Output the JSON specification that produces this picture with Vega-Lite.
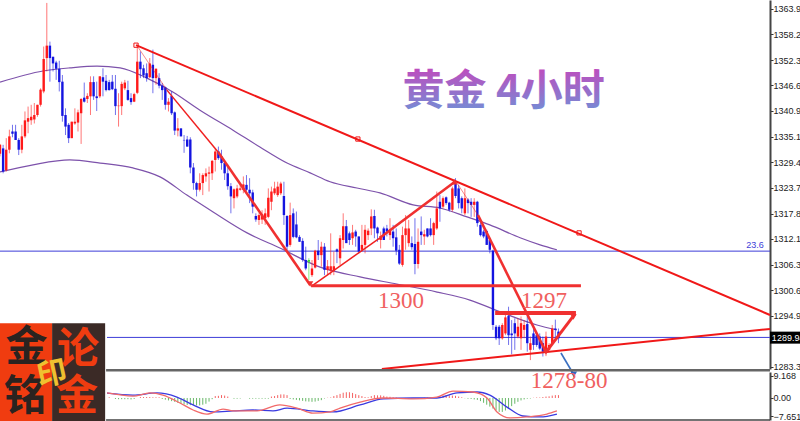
{"$schema":"https://vega.github.io/schema/vega-lite/v6.json","width":800,"height":421,"autosize":{"type":"none"},"padding":0,"background":"white","config":{"view":{"stroke":null},"axis":{"labelOverlap":false,"labelSeparation":0}},
"datasets":{
"candles":[
{"i":0,"d":"u","h":1333.5,"bh":1333.3,"bl":1331.3,"l":1330.7},{"i":1,"d":"d","h":1333.3,"bh":1332.5,"bl":1327.3,"l":1326.9},{"i":2,"d":"u","h":1334.8,"bh":1332.2,"bl":1327.6,"l":1327.3},{"i":3,"d":"u","h":1336.7,"bh":1335.2,"bl":1332.2,"l":1331.4},{"i":4,"d":"d","h":1337.8,"bh":1336.3,"bl":1335.8,"l":1335},{"i":5,"d":"d","h":1337.8,"bh":1336.3,"bl":1334.4,"l":1334.4},{"i":6,"d":"d","h":1334.8,"bh":1334.4,"bl":1332.2,"l":1331},{"i":7,"d":"u","h":1337.8,"bh":1335.2,"bl":1332.2,"l":1331.4},{"i":8,"d":"u","h":1340.8,"bh":1338.8,"bl":1335.2,"l":1334.8},{"i":9,"d":"u","h":1341.9,"bh":1339.3,"bl":1338.5,"l":1335.9},
{"i":10,"d":"u","h":1342.3,"bh":1339.6,"bl":1338.8,"l":1337.8},{"i":11,"d":"u","h":1342.7,"bh":1340,"bl":1339,"l":1338.1},{"i":12,"d":"u","h":1342.3,"bh":1342.3,"bl":1340,"l":1339.6},{"i":13,"d":"u","h":1346,"bh":1345.7,"bl":1342.3,"l":1341.9},{"i":14,"d":"u","h":1355.4,"bh":1352.6,"bl":1345.3,"l":1344.9},{"i":15,"d":"u","h":1365.2,"bh":1355.6,"bl":1352.8,"l":1349.8},{"i":16,"d":"d","h":1356.5,"bh":1355.6,"bl":1352.8,"l":1347.5},{"i":17,"d":"d","h":1353.1,"bh":1353.1,"bl":1351.6,"l":1349.8},{"i":18,"d":"d","h":1352.2,"bh":1351.8,"bl":1350.4,"l":1347.9},{"i":19,"d":"d","h":1352.2,"bh":1350.4,"bl":1347.4,"l":1345.3},
{"i":20,"d":"d","h":1349,"bh":1347.5,"bl":1339.8,"l":1338.5},{"i":21,"d":"d","h":1341.5,"bh":1340,"bl":1337.4,"l":1335.5},{"i":22,"d":"d","h":1338.2,"bh":1337.8,"bl":1334.8,"l":1333.7},{"i":23,"d":"u","h":1338.5,"bh":1338.5,"bl":1334.8,"l":1334.8},{"i":24,"d":"u","h":1341.5,"bh":1338.5,"bl":1338.1,"l":1337.8},{"i":25,"d":"u","h":1341.2,"bh":1340.6,"bl":1338.3,"l":1336.3},{"i":26,"d":"u","h":1343.8,"bh":1343.6,"bl":1340.4,"l":1333.5},{"i":27,"d":"d","h":1347.3,"bh":1343.9,"bl":1343,"l":1342.8},{"i":28,"d":"u","h":1344.9,"bh":1344.3,"bl":1343.6,"l":1342.7},{"i":29,"d":"u","h":1348.7,"bh":1347.4,"bl":1344.2,"l":1340},
{"i":30,"d":"d","h":1348.7,"bh":1347.4,"bl":1344.2,"l":1343.4},{"i":31,"d":"d","h":1347.5,"bh":1344.2,"bl":1343.8,"l":1340.9},{"i":32,"d":"u","h":1348.7,"bh":1348.7,"bl":1344.2,"l":1343.8},{"i":33,"d":"d","h":1350.5,"bh":1348.5,"bl":1347.5,"l":1344.2},{"i":34,"d":"d","h":1349,"bh":1347.7,"bl":1345.6,"l":1345.3},{"i":35,"d":"d","h":1347.9,"bh":1347.4,"bl":1345.6,"l":1345.5},{"i":36,"d":"d","h":1349,"bh":1347.5,"bl":1345.8,"l":1345.6},{"i":37,"d":"d","h":1349,"bh":1345.9,"bl":1342,"l":1340},{"i":38,"d":"u","h":1344.9,"bh":1342.1,"bl":1342,"l":1337.4},{"i":39,"d":"u","h":1347.5,"bh":1347,"bl":1342,"l":1340},
{"i":40,"d":"u","h":1347.9,"bh":1347.3,"bl":1346,"l":1345.6},{"i":41,"d":"d","h":1347.7,"bh":1345.6,"bl":1343.4,"l":1343.2},{"i":42,"d":"d","h":1344.9,"bh":1343.8,"bl":1342.9,"l":1342.3},{"i":43,"d":"u","h":1345,"bh":1344.7,"bl":1343,"l":1342.9},{"i":44,"d":"u","h":1355.4,"bh":1352,"bl":1345,"l":1344.7},{"i":45,"d":"d","h":1354.3,"bh":1352,"bl":1350.3,"l":1348.3},{"i":46,"d":"d","h":1351.3,"bh":1350.5,"bl":1348.9,"l":1348.3},{"i":47,"d":"d","h":1351.6,"bh":1349.4,"bl":1348.3,"l":1347.5},{"i":48,"d":"u","h":1352.8,"bh":1351.6,"bl":1348.5,"l":1348.3},{"i":49,"d":"d","h":1354.7,"bh":1351.3,"bl":1348.3,"l":1344.9},
{"i":50,"d":"u","h":1350.5,"bh":1350.4,"bl":1348.3,"l":1346.8},{"i":51,"d":"d","h":1349.4,"bh":1348.3,"bl":1346.6,"l":1346},{"i":52,"d":"d","h":1347.2,"bh":1346.6,"bl":1345.6,"l":1343.4},{"i":53,"d":"d","h":1346.4,"bh":1346.2,"bl":1342.3,"l":1341.2},{"i":54,"d":"u","h":1343.8,"bh":1343,"bl":1342.3,"l":1340.8},{"i":55,"d":"d","h":1345.3,"bh":1344.3,"bl":1340.4,"l":1340},{"i":56,"d":"d","h":1340.8,"bh":1340.6,"bl":1336.5,"l":1335.5},{"i":57,"d":"u","h":1339.3,"bh":1337,"bl":1336.5,"l":1335.2},{"i":58,"d":"d","h":1337,"bh":1337,"bl":1335.2,"l":1335.2},{"i":59,"d":"d","h":1335.5,"bh":1334.4,"bl":1334.3,"l":1331.5},
{"i":60,"d":"d","h":1335.3,"bh":1334.5,"bl":1332.9,"l":1332.9},{"i":61,"d":"d","h":1335,"bh":1334.5,"bl":1328.2,"l":1326.9},{"i":62,"d":"d","h":1329.2,"bh":1328.2,"bl":1324.7,"l":1323.2},{"i":63,"d":"d","h":1325,"bh":1324.7,"bl":1323.2,"l":1321.7},{"i":64,"d":"u","h":1326.9,"bh":1324.7,"bl":1323.2,"l":1322.8},{"i":65,"d":"u","h":1326.9,"bh":1326.5,"bl":1324.7,"l":1322},{"i":66,"d":"u","h":1328,"bh":1326.9,"bl":1326.2,"l":1325},{"i":67,"d":"u","h":1328.4,"bh":1327.1,"bl":1326.8,"l":1322.8},{"i":68,"d":"u","h":1329.9,"bh":1329.7,"bl":1326.9,"l":1325.4},{"i":69,"d":"u","h":1332.5,"bh":1331.8,"bl":1329.9,"l":1327.3},
{"i":70,"d":"d","h":1332.9,"bh":1331.8,"bl":1330.3,"l":1329.9},{"i":71,"d":"d","h":1332.2,"bh":1330.7,"bl":1329.2,"l":1327.7},{"i":72,"d":"d","h":1329.2,"bh":1329.2,"bl":1326.9,"l":1325.4},{"i":73,"d":"d","h":1328.8,"bh":1326.9,"bl":1324,"l":1323.2},{"i":74,"d":"d","h":1324.7,"bh":1324,"bl":1321.7,"l":1317.9},{"i":75,"d":"u","h":1323.5,"bh":1323.3,"bl":1321.3,"l":1319},{"i":76,"d":"u","h":1324.3,"bh":1323.5,"bl":1321.7,"l":1321.3},{"i":77,"d":"u","h":1324.3,"bh":1323.5,"bl":1323.2,"l":1323},{"i":78,"d":"u","h":1326.2,"bh":1324.4,"bl":1323.2,"l":1322.4},{"i":79,"d":"d","h":1326.5,"bh":1324.3,"bl":1323.2,"l":1322.8},
{"i":80,"d":"d","h":1325.8,"bh":1323.2,"bl":1322.4,"l":1320.2},{"i":81,"d":"d","h":1323.2,"bh":1322.6,"bl":1319.4,"l":1317.9},{"i":82,"d":"d","h":1317.9,"bh":1317.3,"bl":1316.5,"l":1316},{"i":83,"d":"u","h":1317.9,"bh":1317.5,"bl":1316.4,"l":1315.3},{"i":84,"d":"u","h":1318.6,"bh":1317.7,"bl":1316.5,"l":1315.5},{"i":85,"d":"u","h":1319,"bh":1317.9,"bl":1316.8,"l":1315.3},{"i":86,"d":"u","h":1323.5,"bh":1321.4,"bl":1317.1,"l":1316.8},{"i":87,"d":"u","h":1323.9,"bh":1322.8,"bl":1320.5,"l":1318.6},{"i":88,"d":"u","h":1325,"bh":1323.5,"bl":1322.4,"l":1322},{"i":89,"d":"u","h":1325,"bh":1323.9,"bl":1322,"l":1321.6},
{"i":90,"d":"u","h":1325,"bh":1324.6,"bl":1322.4,"l":1322},{"i":91,"d":"d","h":1325,"bh":1321.8,"bl":1317.5,"l":1315.3},{"i":92,"d":"d","h":1317.5,"bh":1317.3,"bl":1310.4,"l":1309.6},{"i":93,"d":"u","h":1320.3,"bh":1317.5,"bl":1310.8,"l":1310.4},{"i":94,"d":"d","h":1319,"bh":1317.9,"bl":1312.6,"l":1312.3},{"i":95,"d":"d","h":1318.3,"bh":1315.4,"bl":1312.5,"l":1312.3},{"i":96,"d":"d","h":1313,"bh":1312.6,"bl":1311.5,"l":1311.5},{"i":97,"d":"d","h":1312.3,"bh":1311.7,"bl":1307.4,"l":1307},{"i":98,"d":"d","h":1310.4,"bh":1307.4,"bl":1305.5,"l":1305.1},{"i":99,"d":"g","h":1307.8,"bh":1307.4,"bl":1307,"l":1302.9},
{"i":100,"d":"u","h":1307.4,"bh":1305.5,"bl":1304,"l":1303.6},{"i":101,"d":"u","h":1309.7,"bh":1309.5,"bl":1305.7,"l":1305.5},{"i":102,"d":"d","h":1311.9,"bh":1309.5,"bl":1308.5,"l":1307.4},{"i":103,"d":"u","h":1311.5,"bh":1310.4,"bl":1308.5,"l":1305.9},{"i":104,"d":"d","h":1311.2,"bh":1310.4,"bl":1305.2,"l":1304},{"i":105,"d":"u","h":1307.4,"bh":1306,"bl":1305.2,"l":1304},{"i":106,"d":"u","h":1313.4,"bh":1306,"bl":1305,"l":1304},{"i":107,"d":"u","h":1309.3,"bh":1306,"bl":1305,"l":1304},{"i":108,"d":"d","h":1310,"bh":1309.8,"bl":1309.3,"l":1306.7},{"i":109,"d":"u","h":1313,"bh":1312.3,"bl":1307.8,"l":1306.3},
{"i":110,"d":"u","h":1317.9,"bh":1315,"bl":1311.9,"l":1310},{"i":111,"d":"d","h":1316.4,"bh":1315,"bl":1311.2,"l":1311.2},{"i":112,"d":"d","h":1313.8,"bh":1313.4,"bl":1311.9,"l":1310.8},{"i":113,"d":"u","h":1315.3,"bh":1313.6,"bl":1312.3,"l":1310.8},{"i":114,"d":"d","h":1314.2,"bh":1313.8,"bl":1312.7,"l":1310.4},{"i":115,"d":"d","h":1312.7,"bh":1312.7,"bl":1309.3,"l":1308.9},{"i":116,"d":"u","h":1315.3,"bh":1310.8,"bl":1309.7,"l":1309.3},{"i":117,"d":"u","h":1315.3,"bh":1314.2,"bl":1310.8,"l":1308.9},{"i":118,"d":"u","h":1314.5,"bh":1314,"bl":1313,"l":1311.9},{"i":119,"d":"u","h":1318.8,"bh":1317.2,"bl":1314.5,"l":1313},
{"i":120,"d":"d","h":1318.7,"bh":1317.3,"bl":1314.5,"l":1312.3},{"i":121,"d":"d","h":1314.9,"bh":1314.7,"bl":1313.4,"l":1311.5},{"i":122,"d":"u","h":1313.8,"bh":1312.8,"bl":1311.9,"l":1310},{"i":123,"d":"d","h":1314.9,"bh":1314.5,"bl":1311.9,"l":1311.9},{"i":124,"d":"d","h":1315.3,"bh":1314.5,"bl":1313.8,"l":1312.7},{"i":125,"d":"u","h":1316.8,"bh":1314.2,"bl":1313,"l":1311.9},{"i":126,"d":"d","h":1315.3,"bh":1313.8,"bl":1312.3,"l":1310.4},{"i":127,"d":"d","h":1314.5,"bh":1312.5,"bl":1309.5,"l":1308.5},{"i":128,"d":"d","h":1310.8,"bh":1309.7,"bl":1306.6,"l":1306.3},{"i":129,"d":"u","h":1314.9,"bh":1313,"bl":1306.3,"l":1305.9},
{"i":130,"d":"u","h":1317.5,"bh":1314.5,"bl":1313,"l":1309.7},{"i":131,"d":"u","h":1316.4,"bh":1314.5,"bl":1311.2,"l":1310.4},{"i":132,"d":"d","h":1312.7,"bh":1311.2,"bl":1310.3,"l":1309.7},{"i":133,"d":"d","h":1316.8,"bh":1311,"bl":1306.5,"l":1304.2},{"i":134,"d":"u","h":1314.5,"bh":1311.5,"bl":1306.5,"l":1305.5},{"i":135,"d":"d","h":1317.2,"bh":1313.8,"bl":1313,"l":1310.8},{"i":136,"d":"u","h":1314.2,"bh":1313.2,"bl":1312.7,"l":1310.8},{"i":137,"d":"d","h":1314.5,"bh":1314.5,"bl":1312.7,"l":1312.5},{"i":138,"d":"d","h":1316.8,"bh":1314.5,"bl":1313,"l":1312.7},{"i":139,"d":"u","h":1316,"bh":1315.7,"bl":1313,"l":1310.8},
{"i":140,"d":"u","h":1322.8,"bh":1319,"bl":1314.5,"l":1314.2},{"i":141,"d":"d","h":1322,"bh":1320.5,"bl":1319,"l":1316},{"i":142,"d":"u","h":1321.7,"bh":1321.3,"bl":1319.4,"l":1319},{"i":143,"d":"d","h":1321.7,"bh":1321.5,"bl":1320.2,"l":1319.8},{"i":144,"d":"d","h":1320.5,"bh":1320.3,"bl":1318.7,"l":1318.3},{"i":145,"d":"u","h":1323.9,"bh":1323.5,"bl":1318.7,"l":1318.3},{"i":146,"d":"d","h":1325.8,"bh":1324.6,"bl":1321.8,"l":1321.3},{"i":147,"d":"d","h":1324.3,"bh":1323.5,"bl":1320.2,"l":1319},{"i":148,"d":"d","h":1321.7,"bh":1321.3,"bl":1319,"l":1317.9},{"i":149,"d":"u","h":1323.5,"bh":1321.3,"bl":1317.9,"l":1317.5},
{"i":150,"d":"d","h":1321.3,"bh":1321,"bl":1320.2,"l":1317.9},{"i":151,"d":"d","h":1321.3,"bh":1320.5,"bl":1319.8,"l":1317.1},{"i":152,"d":"u","h":1321.3,"bh":1320.5,"bl":1319.8,"l":1317.1},{"i":153,"d":"d","h":1320.7,"bh":1320.5,"bl":1315.7,"l":1314.9},{"i":154,"d":"d","h":1316.4,"bh":1315.3,"bl":1313,"l":1312.7},{"i":155,"d":"d","h":1314.2,"bh":1313.8,"bl":1312.7,"l":1312.3},{"i":156,"d":"d","h":1314.2,"bh":1313.9,"bl":1310.8,"l":1310.8},{"i":157,"d":"d","h":1312.3,"bh":1311.9,"bl":1309.7,"l":1308.9},{"i":158,"d":"d","h":1309.7,"bh":1309.5,"bl":1292.8,"l":1291.7},{"i":159,"d":"d","h":1292.8,"bh":1292.4,"bl":1289.8,"l":1289.4},
{"i":160,"d":"d","h":1292.8,"bh":1292.4,"bl":1289.8,"l":1288.3},{"i":161,"d":"u","h":1293.2,"bh":1292.8,"bl":1289.8,"l":1289.5},{"i":162,"d":"u","h":1295.4,"bh":1294.5,"bl":1290.9,"l":1290.5},{"i":163,"d":"d","h":1296.9,"bh":1294.8,"bl":1290.5,"l":1288.3},{"i":164,"d":"d","h":1293.9,"bh":1290.9,"bl":1290.5,"l":1286.2},{"i":165,"d":"d","h":1294.3,"bh":1293.2,"bl":1290.9,"l":1287.2},{"i":166,"d":"u","h":1294.3,"bh":1292.4,"bl":1290.2,"l":1289.8},{"i":167,"d":"u","h":1294.7,"bh":1293.2,"bl":1289.8,"l":1287.2},{"i":168,"d":"u","h":1293.9,"bh":1292.8,"bl":1291.7,"l":1289.8},{"i":169,"d":"d","h":1294.7,"bh":1293,"bl":1288.7,"l":1286.8},
{"i":170,"d":"u","h":1290.2,"bh":1288.7,"bl":1287.2,"l":1284.9},{"i":171,"d":"d","h":1292,"bh":1290.9,"bl":1288.3,"l":1287.2},{"i":172,"d":"d","h":1290.9,"bh":1290.5,"bl":1288.3,"l":1287.9},{"i":173,"d":"d","h":1290.9,"bh":1290.2,"bl":1287.5,"l":1287.2},{"i":174,"d":"d","h":1290.2,"bh":1288.7,"bl":1286.8,"l":1285.7},{"i":175,"d":"u","h":1291.3,"bh":1290.2,"bl":1287.2,"l":1285.8},{"i":176,"d":"u","h":1288.7,"bh":1288.3,"bl":1287.2,"l":1287},{"i":177,"d":"u","h":1292.8,"bh":1292,"bl":1288.7,"l":1288.3},{"i":178,"d":"d","h":1294,"bh":1292,"bl":1291.7,"l":1289.8},{"i":179,"d":"d","h":1292,"bh":1291.3,"bl":1289.8,"l":1288.7}
],
"ma":[
{"s":"upper","i":0,"p":1347.4},{"s":"upper","i":13.8,"p":1349.9},{"s":"upper","i":22.4,"p":1350.6},{"s":"upper","i":31.1,"p":1351},{"s":"upper","i":38.5,"p":1350.6},{"s":"upper","i":47.1,"p":1348.3},{"s":"upper","i":55.4,"p":1345.2},{"s":"upper","i":64.1,"p":1341.1},{"s":"upper","i":74.7,"p":1336.6},{"s":"upper","i":83.3,"p":1332.8},{"s":"upper","i":92,"p":1329.2},{"s":"upper","i":99.4,"p":1327},{"s":"upper","i":105.8,"p":1325},{"s":"upper","i":114.4,"p":1323.6},{"s":"upper","i":121.8,"p":1322.5},{"s":"upper","i":132.4,"p":1319.8},{"s":"upper","i":141,"p":1319.1},{"s":"upper","i":149.7,"p":1317.1},{"s":"upper","i":157,"p":1315.3},{"s":"upper","i":166.7,"p":1312.4},{"s":"upper","i":173.1,"p":1310.8},{"s":"upper","i":178.5,"p":1309.7},
{"s":"lower","i":0,"p":1327.2},{"s":"lower","i":10.6,"p":1328.8},{"s":"lower","i":22.4,"p":1329.9},{"s":"lower","i":32.1,"p":1329.2},{"s":"lower","i":42.6,"p":1328.1},{"s":"lower","i":51.3,"p":1326.1},{"s":"lower","i":59.9,"p":1322},{"s":"lower","i":68.3,"p":1318.2},{"s":"lower","i":79.2,"p":1313.5},{"s":"lower","i":89.7,"p":1310.1},{"s":"lower","i":102.6,"p":1305.8},{"s":"lower","i":115.4,"p":1303.6},{"s":"lower","i":127.2,"p":1302},{"s":"lower","i":140.1,"p":1300.2},{"s":"lower","i":150.6,"p":1298.4},{"s":"lower","i":161.2,"p":1295.5},{"s":"lower","i":172.1,"p":1292.8},{"s":"lower","i":178.5,"p":1291.7}
],
"macdLines":[
{"s":"signal","i":34.3,"v":2},{"s":"signal","i":42.6,"v":1.2},{"s":"signal","i":50.3,"v":2.1},{"s":"signal","i":56.7,"v":0.4},{"s":"signal","i":61.9,"v":-2.9},{"s":"signal","i":68.3,"v":-5.8},{"s":"signal","i":74.7,"v":-5.4},{"s":"signal","i":81.1,"v":-5},{"s":"signal","i":87.5,"v":-5.4},{"s":"signal","i":92,"v":-4.2},{"s":"signal","i":100.3,"v":-5.4},{"s":"signal","i":106.7,"v":-5.8},{"s":"signal","i":115.4,"v":-2.9},{"s":"signal","i":122.8,"v":-0.4},{"s":"signal","i":132.4,"v":0},{"s":"signal","i":140,"v":0},{"s":"signal","i":146.5,"v":2.1},{"s":"signal","i":152.9,"v":2.5},{"s":"signal","i":157,"v":1.2},{"s":"signal","i":162.5,"v":-3.8},{"s":"signal","i":167.6,"v":-7.5},{"s":"signal","i":173.1,"v":-7.9},{"s":"signal","i":178.5,"v":-6.7},
{"s":"macd","i":34.3,"v":2.1},{"s":"macd","i":42.6,"v":0.8},{"s":"macd","i":48.1,"v":2.1},{"s":"macd","i":52.2,"v":1.2},{"s":"macd","i":57.7,"v":-2.1},{"s":"macd","i":61.9,"v":-5},{"s":"macd","i":66.3,"v":-6.7},{"s":"macd","i":71.5,"v":-4.6},{"s":"macd","i":74.7,"v":-5.4},{"s":"macd","i":82.4,"v":-5.4},{"s":"macd","i":89.7,"v":-2.9},{"s":"macd","i":95.2,"v":-4.2},{"s":"macd","i":100.3,"v":-6.3},{"s":"macd","i":105.8,"v":-5.8},{"s":"macd","i":109,"v":-4.2},{"s":"macd","i":115.4,"v":-1.7},{"s":"macd","i":122.8,"v":0},{"s":"macd","i":132.4,"v":-0.4},{"s":"macd","i":140,"v":0.4},{"s":"macd","i":145.2,"v":2.9},{"s":"macd","i":151.6,"v":2.5},{"s":"macd","i":156.1,"v":0},{"s":"macd","i":159.3,"v":-5.8},{"s":"macd","i":163.5,"v":-8.3},{"s":"macd","i":168.9,"v":-7.9},{"s":"macd","i":175.3,"v":-6.7},{"s":"macd","i":178.5,"v":-5.4}
],
"hist":[
{"i":35,"v":0.3,"d":"u"},{"i":37,"v":-0.4,"d":"d"},{"i":38,"v":-0.5,"d":"d"},{"i":39,"v":-0.5,"d":"d"},{"i":40,"v":-0.5,"d":"d"},{"i":41,"v":-0.5,"d":"d"},{"i":42,"v":-0.6,"d":"d"},{"i":43,"v":-0.4,"d":"d"},{"i":45,"v":0.4,"d":"u"},{"i":46,"v":0.4,"d":"u"},{"i":47,"v":0.4,"d":"u"},{"i":48,"v":0.4,"d":"u"},{"i":49,"v":0.3,"d":"u"},{"i":50,"v":0.3,"d":"u"},{"i":51,"v":0.3,"d":"u"},{"i":52,"v":-0.4,"d":"d"},{"i":53,"v":-0.7,"d":"d"},{"i":54,"v":-1,"d":"d"},{"i":55,"v":-1.3,"d":"d"},{"i":56,"v":-1.6,"d":"d"},{"i":57,"v":-2,"d":"d"},{"i":58,"v":-2.4,"d":"d"},{"i":59,"v":-2.7,"d":"d"},{"i":60,"v":-2.9,"d":"d"},{"i":61,"v":-3,"d":"d"},{"i":62,"v":-3,"d":"d"},{"i":63,"v":-3.1,"d":"d"},{"i":64,"v":-3.1,"d":"d"},{"i":65,"v":-2.8,"d":"d"},{"i":66,"v":-2.4,"d":"d"},{"i":67,"v":-1.5,"d":"d"},{"i":68,"v":-0.5,"d":"d"},{"i":69,"v":0.8,"d":"u"},{"i":70,"v":0.9,"d":"u"},{"i":71,"v":1.2,"d":"u"},{"i":72,"v":1,"d":"u"},{"i":73,"v":0.6,"d":"u"},{"i":75,"v":-0.3,"d":"d"},{"i":76,"v":-0.3,"d":"d"},{"i":77,"v":-0.2,"d":"d"},{"i":80,"v":-0.3,"d":"d"},{"i":81,"v":-0.3,"d":"d"},{"i":82,"v":-0.3,"d":"d"},{"i":83,"v":-0.3,"d":"d"},{"i":84,"v":-0.3,"d":"d"},{"i":85,"v":-0.3,"d":"d"},{"i":86,"v":-0.3,"d":"d"},{"i":87,"v":0.6,"d":"u"},{"i":88,"v":0.8,"d":"u"},{"i":89,"v":1.2,"d":"u"},{"i":90,"v":1.5,"d":"u"},{"i":91,"v":1.5,"d":"u"},{"i":92,"v":1.2,"d":"u"},{"i":93,"v":-0.4,"d":"d"},{"i":94,"v":-0.6,"d":"d"},{"i":95,"v":-0.8,"d":"d"},{"i":96,"v":-1,"d":"d"},{"i":97,"v":-1.2,"d":"d"},{"i":98,"v":-1.4,"d":"d"},{"i":99,"v":-1.5,"d":"d"},{"i":100,"v":-1.6,"d":"d"},{"i":101,"v":-1.5,"d":"d"},{"i":102,"v":-1.2,"d":"d"},{"i":103,"v":-0.9,"d":"d"},{"i":104,"v":-0.2,"d":"d"},{"i":105,"v":0.1,"d":"u"},{"i":106,"v":0.2,"d":"u"},{"i":107,"v":0.8,"d":"u"},{"i":108,"v":1.2,"d":"u"},{"i":109,"v":1.7,"d":"u"},{"i":110,"v":2.2,"d":"u"},{"i":111,"v":2.4,"d":"u"},{"i":112,"v":2.4,"d":"u"},{"i":113,"v":2.1,"d":"u"},{"i":114,"v":1.6,"d":"u"},{"i":115,"v":1.2,"d":"u"},{"i":116,"v":0.8,"d":"u"},{"i":117,"v":0.4,"d":"u"},{"i":118,"v":0.3,"d":"u"},{"i":119,"v":0.8,"d":"u"},{"i":120,"v":1.2,"d":"u"},{"i":121,"v":1.1,"d":"u"},{"i":122,"v":1.1,"d":"u"},{"i":123,"v":0.9,"d":"u"},{"i":124,"v":0.6,"d":"u"},{"i":125,"v":0.5,"d":"u"},{"i":126,"v":0.3,"d":"u"},{"i":127,"v":0.2,"d":"u"},{"i":129,"v":-0.2,"d":"d"},{"i":130,"v":-0.3,"d":"d"},{"i":131,"v":-0.3,"d":"d"},{"i":132,"v":-0.2,"d":"d"},{"i":133,"v":-0.2,"d":"d"},{"i":134,"v":-0.3,"d":"d"},{"i":135,"v":-0.2,"d":"d"},{"i":136,"v":0.1,"d":"u"},{"i":137,"v":0.2,"d":"u"},{"i":138,"v":0.1,"d":"u"},{"i":139,"v":0.1,"d":"u"},{"i":140,"v":0.2,"d":"u"},{"i":141,"v":0.8,"d":"u"},{"i":142,"v":1.1,"d":"u"},{"i":143,"v":1.2,"d":"u"},{"i":144,"v":1.1,"d":"u"},{"i":145,"v":1,"d":"u"},{"i":146,"v":0.9,"d":"u"},{"i":147,"v":0.6,"d":"u"},{"i":148,"v":0.3,"d":"u"},{"i":149,"v":-0.1,"d":"d"},{"i":150,"v":-0.3,"d":"d"},{"i":151,"v":-0.4,"d":"d"},{"i":152,"v":-0.6,"d":"d"},{"i":153,"v":-0.8,"d":"d"},{"i":154,"v":-1.3,"d":"d"},{"i":155,"v":-2,"d":"d"},{"i":156,"v":-2.8,"d":"d"},{"i":157,"v":-3.6,"d":"d"},{"i":158,"v":-4.4,"d":"d"},{"i":159,"v":-5.2,"d":"d"},{"i":160,"v":-5.8,"d":"d"},{"i":161,"v":-5.8,"d":"d"},{"i":162,"v":-5.2,"d":"d"},{"i":163,"v":-4.4,"d":"d"},{"i":164,"v":-3.4,"d":"d"},{"i":165,"v":-2.4,"d":"d"},{"i":166,"v":-1.6,"d":"d"},{"i":167,"v":-1,"d":"d"},{"i":168,"v":-0.6,"d":"d"},{"i":169,"v":-0.3,"d":"d"},{"i":170,"v":-0.2,"d":"d"},{"i":171,"v":0.1,"d":"u"},{"i":172,"v":0.2,"d":"u"},{"i":173,"v":0.2,"d":"u"},{"i":174,"v":0.4,"d":"u"},{"i":175,"v":0.6,"d":"u"},{"i":176,"v":0.7,"d":"u"},{"i":177,"v":1,"d":"u"},{"i":178,"v":1.2,"d":"u"},{"i":179,"v":1.2,"d":"u"}
]},
"encoding":{"x":{"field":"i","type":"quantitative","scale":{"domain":[0,246.8],"range":[0,770],"nice":false,"zero":false,"padding":0},"axis":null}},
"resolve":{"scale":{"y":"independent","color":"independent"}},
"layer":[
{"layer":[
{"data":{"values":[{"i":0,"i2":246.8,"p":1309.4},{"i":34.3,"i2":246.8,"p":1290}]},"mark":{"type":"rule","color":"#3d3dd8","strokeWidth":1},"encoding":{"x2":{"field":"i2"},"y":{"field":"p","type":"quantitative","scale":{"domain":[1282.9,1365.86],"range":[369,0],"nice":false,"zero":false},"axis":{"orient":"right","offset":-30,"values":[1363.9,1358.2,1352.35,1346.65,1340.95,1335.1,1329.4,1323.7,1317.85,1312.15,1306.3,1300.6,1294.9,1283.35],"tickCount":30,"format":".2f","title":null,"grid":false,"labelFont":"Liberation Sans","labelFontSize":9,"labelColor":"#222222","labelPadding":0,"labelOverlap":false,"labelFlush":false,"labelSeparation":0,"tickSize":3,"tickColor":"#333333","domainColor":"#444444","domainWidth":2}}}},
{"data":{"name":"ma"},"mark":{"type":"line","color":"#7d52ab","strokeWidth":1.2,"interpolate":"monotone"},"encoding":{"detail":{"field":"s"},"y":{"field":"p","type":"quantitative"}}},
{"data":{"name":"candles"},"mark":{"type":"rule","strokeWidth":1,"opacity":0.6},"encoding":{"y":{"field":"h","type":"quantitative"},"y2":{"field":"l"},"color":{"field":"d","scale":{"domain":["u","d","g"],"range":["#ff1a1a","#1414e0","#33dd33"]},"legend":null}}},
{"data":{"name":"candles"},"mark":{"type":"bar","size":2.4},"encoding":{"y":{"field":"bh","type":"quantitative"},"y2":{"field":"bl"},"color":{"field":"d","scale":{"domain":["u","d","g"],"range":["#ff1a1a","#1414e0","#33dd33"]},"legend":null}}},
{"data":{"values":[{"s":"t1","i":43.6,"p":1355.7},{"s":"t1","i":246.8,"p":1295.05},{"s":"t2","i":122.4,"p":1282.9},{"s":"t2","i":246.8,"p":1291.9}]},"mark":{"type":"line","color":"#f01818","strokeWidth":2},"encoding":{"detail":{"field":"s"},"y":{"field":"p","type":"quantitative"}}},
{"data":{"values":[{"s":"a","i":44.2,"p":1355.3},{"s":"a","i":53.5,"p":1345.6},{"s":"d","i":146.2,"p":1325},{"s":"d","i":153.2,"p":1317.5}]},"mark":{"type":"line","color":"#f01818","strokeWidth":1,"opacity":0.5},"encoding":{"detail":{"field":"s"},"y":{"field":"p","type":"quantitative"}}},
{"data":{"values":[{"s":"a","i":53.5,"p":1345.6},{"s":"a","i":69.9,"p":1331.7},{"s":"b","i":100,"p":1301.6},{"s":"b","i":121.8,"p":1312.4}]},"mark":{"type":"line","color":"#f02020","strokeWidth":1.5},"encoding":{"detail":{"field":"s"},"y":{"field":"p","type":"quantitative"}}},
{"data":{"values":[{"s":"a","i":69.9,"p":1331.7},{"s":"a","i":99.4,"p":1301.8},{"s":"b","i":121.8,"p":1312.4},{"s":"b","i":145.8,"p":1325},{"s":"d","i":153.2,"p":1317.5},{"s":"d","i":175,"p":1286.7}]},"mark":{"type":"line","color":"#f03030","strokeWidth":2.6},"encoding":{"detail":{"field":"s"},"y":{"field":"p","type":"quantitative"}}},
{"data":{"values":[{"s":"c","i":99.7,"p":1301.6},{"s":"c","i":186.2,"p":1301.6},{"s":"f","i":175,"p":1286.7},{"s":"f","i":184.3,"p":1295.3}]},"mark":{"type":"line","color":"#f03030","strokeWidth":3},"encoding":{"detail":{"field":"s"},"y":{"field":"p","type":"quantitative"}}},
{"data":{"values":[{"s":"e","i":158.7,"p":1295.5},{"s":"e","i":184.6,"p":1295.5}]},"mark":{"type":"line","color":"#f03030","strokeWidth":4},"encoding":{"detail":{"field":"s"},"y":{"field":"p","type":"quantitative"}}},
{"data":{"values":[{"i":43.6,"p":1355.7},{"i":114.7,"p":1334.6},{"i":185.6,"p":1313.5}]},"mark":{"type":"point","shape":"square","size":18,"color":"#f01818","filled":false,"opacity":1,"strokeWidth":1},"encoding":{"y":{"field":"p","type":"quantitative"}}},
{"data":{"values":[{"i":99.4,"p":1302},{"i":175,"p":1286.7},{"i":183.8,"p":1294.6}]},"mark":{"type":"point","shape":"triangle-down","size":40,"color":"#f03030","filled":true,"opacity":1},"encoding":{"y":{"field":"p","type":"quantitative"}}},
{"data":{"values":[{"i":145.6,"p":1325}]},"mark":{"type":"point","shape":"triangle-up","size":40,"color":"#f03030","filled":true,"opacity":1},"encoding":{"y":{"field":"p","type":"quantitative"}}},
{"data":{"values":[{"i":179.8,"p":1286.5},{"i":183.6,"p":1282}]},"mark":{"type":"line","color":"#3a6fc0","strokeWidth":1.6},"encoding":{"y":{"field":"p","type":"quantitative"}}},
{"data":{"values":[{"i":183.9,"p":1281.7}]},"mark":{"type":"point","shape":"triangle-down","size":45,"color":"#2f66c0","filled":true,"opacity":1},"encoding":{"y":{"field":"p","type":"quantitative"}}},
{"data":{"values":[{"i":128.5,"p":1298.2,"t":"1300"},{"i":174.4,"p":1298.2,"t":"1297"},{"i":182.4,"p":1280.2,"t":"1278-80"}]},"mark":{"type":"text","font":"Liberation Serif","fontSize":23,"color":"#f06060"},"encoding":{"y":{"field":"p","type":"quantitative"},"text":{"field":"t"}}},
{"data":{"values":[{"i":161.4,"p":1345.1,"t":"黄金 4小时"}]},"mark":{"type":"text","font":"Noto Sans CJK SC","fontWeight":"bold","fontSize":42,"color":{"gradient":"linear","x1":0,"y1":0,"x2":0,"y2":1,"stops":[{"offset":0,"color":"#d23cb8"},{"offset":1,"color":"#6a95d8"}]}},"encoding":{"y":{"field":"p","type":"quantitative"},"text":{"field":"t"}}},
{"data":{"values":[{"i":242,"p":1310.8,"t":"23.6"}]},"mark":{"type":"text","font":"Liberation Sans","fontSize":9,"color":"#4040d8"},"encoding":{"y":{"field":"p","type":"quantitative"},"text":{"field":"t"}}},
{"data":{"values":[{"i":246.8,"i2":257,"h":1291.3,"l":1288.6}]},"mark":{"type":"rect","color":"#000000"},"encoding":{"x2":{"field":"i2"},"y":{"field":"h","type":"quantitative"},"y2":{"field":"l"}}},
{"data":{"values":[{"i":247.4,"p":1289.95,"t":"1289.94"}]},"mark":{"type":"text","align":"left","font":"Liberation Sans","fontSize":9,"color":"#ffffff"},"encoding":{"y":{"field":"p","type":"quantitative"},"text":{"field":"t"}}},
{"data":{"values":[{"i":34,"i2":246.8,"p":1282.6}]},"mark":{"type":"rule","color":"#666666","strokeWidth":2.5},"encoding":{"x2":{"field":"i2"},"y":{"field":"p","type":"quantitative"}}},
{"data":{"values":[{"i":0,"i2":16.7,"h":1293.2,"l":1271.2}]},"mark":{"type":"rect","color":"#f03c10"},"encoding":{"x2":{"field":"i2"},"y":{"field":"h","type":"quantitative"},"y2":{"field":"l"}}},
{"data":{"values":[{"i":16.7,"i2":33.7,"h":1293.2,"l":1271.2}]},"mark":{"type":"rect","color":"#3b2a26"},"encoding":{"x2":{"field":"i2"},"y":{"field":"h","type":"quantitative"},"y2":{"field":"l"}}},
{"data":{"values":[{"i":8.5,"p":1287.6,"t":"金"},{"i":8,"p":1276.6,"t":"铭"}]},"mark":{"type":"text","font":"Noto Sans CJK SC","fontWeight":"bold","fontSize":42,"color":"#2a2320"},"encoding":{"y":{"field":"p","type":"quantitative"},"text":{"field":"t"}}},
{"data":{"values":[{"i":25,"p":1287.2,"t":"论"},{"i":24.7,"p":1276.6,"t":"金"}]},"mark":{"type":"text","font":"Noto Sans CJK SC","fontWeight":"bold","fontSize":42,"color":"#f03c10"},"encoding":{"y":{"field":"p","type":"quantitative"},"text":{"field":"t"}}},
{"data":{"values":[{"i":16.7,"p":1281.6,"t":"印"}]},"mark":{"type":"text","font":"Noto Sans CJK SC","fontWeight":"bold","fontSize":30,"angle":-12,"color":"#efc030"},"encoding":{"y":{"field":"p","type":"quantitative"},"text":{"field":"t"}}}
]},
{"layer":[
{"data":{"name":"hist"},"mark":{"type":"rule","strokeWidth":1,"opacity":0.7},"encoding":{"y":{"field":"v","type":"quantitative","scale":{"domain":[-9.17,10.83],"range":[420,372],"nice":false,"zero":false},"axis":{"orient":"right","offset":-30,"values":[9.168,0,-7.651],"labelExpr":"datum.value==0?'0.00':format(datum.value,'.3f')","title":null,"grid":false,"labelFont":"Liberation Sans","labelFontSize":9,"labelColor":"#222222","labelPadding":0,"labelOverlap":false,"labelFlush":false,"tickSize":3,"tickColor":"#333333","domainColor":"#444444","domainWidth":2}},"y2":{"datum":0},"color":{"field":"d","scale":{"domain":["u","d","macd","signal"],"range":["#f02020","#2a9a2a","#f26a6a","#3a3ae0"]},"legend":null}}},
{"data":{"name":"macdLines"},"mark":{"type":"line","strokeWidth":1.3,"interpolate":"monotone"},"encoding":{"y":{"field":"v","type":"quantitative"},"color":{"field":"s","scale":{"domain":["u","d","macd","signal"],"range":["#f02020","#2a9a2a","#f26a6a","#3a3ae0"]},"legend":null}}},
{"data":{"values":[{"i":34,"i2":246.8,"v":-9.17}]},"mark":{"type":"rule","color":"#444444","strokeWidth":1.5},"encoding":{"x2":{"field":"i2"},"y":{"field":"v","type":"quantitative"}}}
]}
]}
